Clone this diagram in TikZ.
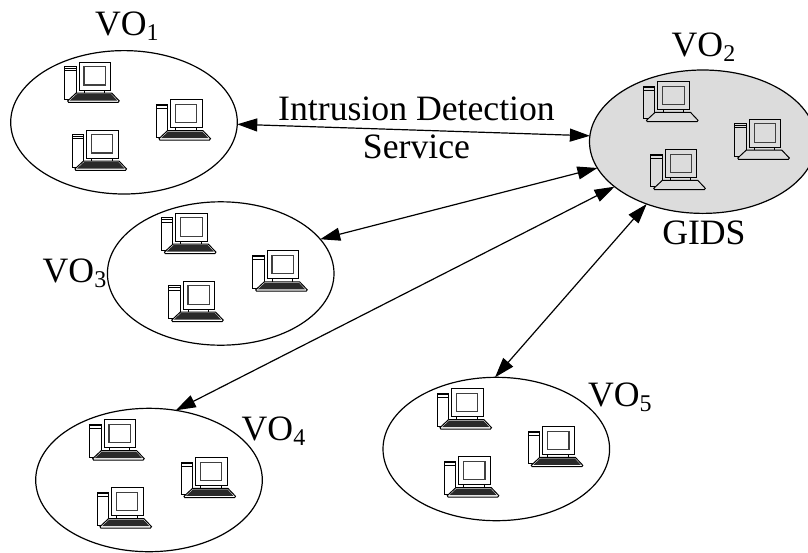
\documentclass[tikz,border=0pt]{standalone}
\usepackage{fontspec}
\setmainfont{Liberation Serif}
\usetikzlibrary{shapes.geometric,arrows.meta}
\definecolor{gidsgray}{HTML}{DCDCDC}
\definecolor{kbdark}{HTML}{2A2A2A}
\newcommand{\volabel}[1]{VO\raisebox{-5pt}{\fontsize{24}{24}\selectfont #1}}
\tikzset{
  x=1pt,y=-1pt,
  voell/.style={draw=black,ellipse,line width=1.2pt,minimum width=226.6pt,minimum height=143.4pt,inner sep=0pt,outer sep=0pt},
  bigtext/.style={font=\fontsize{35.7}{38.7}\selectfont,inner sep=0pt,outer sep=0pt,text=black},
  link/.style={draw=black,line width=1.2pt,{Triangle[length=20pt,width=13pt]}-{Triangle[length=20pt,width=13pt]}},
  pcline/.style={draw=black,line width=1pt},
  screenline/.style={draw=black!75,line width=1.1pt},
  computer/.pic={
    \draw[pcline,fill=bodyc] (0,0) rectangle (11.3,32.6);
    \draw[pcline,line width=.8pt] (0,1.2) -- (11.3,1.2);
    \draw[pcline,line width=.8pt] (0,4) -- (11.3,4);
    \draw[pcline] (19.5,23.3) -- (19.5,26.5) (40,23.3) -- (40,26.5);
    \draw[pcline,fill=rimc] (11.5,26.3) -- (47,26.3) -- (54.5,34.2) -- (53.5,35.6) -- (3.8,35.6) -- (3,34.2) -- cycle;
    \fill[kbc] (12.2,27.2) -- (46.4,27.2) -- (52.5,33.8) -- (5,33.8) -- cycle;
    \draw[pcline,fill=bodyc] (14.3,-4.7) rectangle (46,23.3);
    \draw[screenline,fill=bodyc] (19.3,0) rectangle (40.7,18.3);
  },
  vogroup/.pic={
    \pic at (-59.3,-55.6) {computer};
    \pic at (32,-17.9) {computer};
    \pic at (-52,12.4) {computer};
  },
}
\begin{document}
\begin{tikzpicture}
\useasboundingbox (0,0) rectangle (808,552);
\clip (0,0) rectangle (808,552);
\node[voell] (vo1) at (124,122.3) {};
\node[voell,fill=gidsgray] (vo2) at (702.8,141.7) {};
\node[voell] (vo3) at (220.7,273.5) {};
\node[voell] (vo4) at (149,480) {};
\node[voell] (vo5) at (496.3,449) {};
\colorlet{bodyc}{white}\colorlet{rimc}{white}\colorlet{kbc}{kbdark}
\pic at (vo1.center) {vogroup};
\pic at (vo3.center) {vogroup};
\pic at (vo4.center) {vogroup};
\pic at (vo5.center) {vogroup};
\colorlet{bodyc}{gidsgray}\colorlet{rimc}{gidsgray}\colorlet{kbc}{gidsgray}
\pic at (vo2.center) {vogroup};
\draw[link] (vo1.-1) -- (vo2.177.8);
\draw[link] (vo3.19.8) -- (vo2.194.1);
\draw[link] (vo4.69.4) -- (vo2.207.2);
\draw[link] (vo5.91.8) -- (vo2.228.8);
\node[bigtext,anchor=base west] (l1) at (95,35) {\volabel{1}};
\node[bigtext,anchor=base west] (l2) at (671.7,56) {\volabel{2}};
\node[bigtext,anchor=base west] (l3) at (42.7,282.3) {\volabel{3}};
\node[bigtext,anchor=base west] (l4) at (241.7,440) {\volabel{4}};
\node[bigtext,anchor=base west] (l5) at (588,406.7) {\volabel{5}};
\node[bigtext,anchor=base west] (gids) at (662.3,244) {GIDS};
\node[bigtext,align=center] (ids) at (416.5,128) {Intrusion Detection\\Service};
\end{tikzpicture}
\end{document}
